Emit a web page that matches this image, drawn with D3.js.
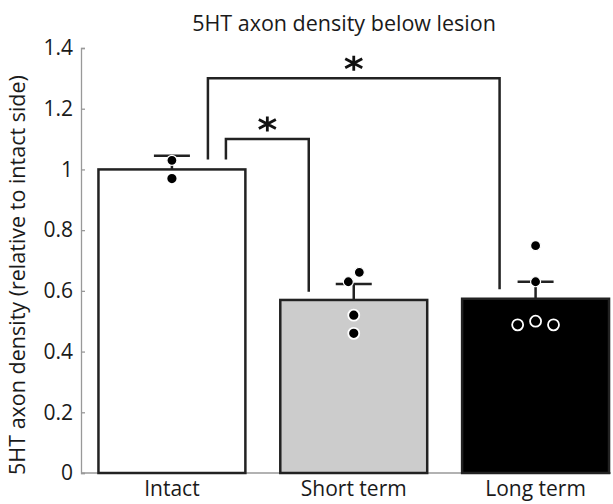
<!DOCTYPE html>
<html lang="en">
<head>
    <meta charset="UTF-8">
    <title>5HT axon density below lesion</title>
    <script src="https://d3js.org/d3.v7.min.js"></script>
    <style>
        body { margin: 0; background: #fff; }
        text { font-family: "Open Sans", "Noto Sans", sans-serif; fill: #1a1a1a; }
    </style>
</head>
<body>
    <svg id="chart"></svg>
    <script>
        const width = 613;
        const height = 504;

        // data
        const categories = ["Intact", "Short term", "Long term"];
        const means = [1.0, 0.57, 0.574];
        const errors = [0.045, 0.053, 0.056];
        const points = [
            [1.03, 0.97],
            [0.63, 0.661, 0.52, 0.46],
            [0.749, 0.63, 0.488, 0.50, 0.488]
        ];
        // horizontal spread of the dots, as a fraction of bar width
        const jitter = [
            [0, 0],
            [-0.037, 0.038, 0, 0],
            [0, 0, -0.122, 0, 0.122]
        ];
        const fills = ["#ffffff", "#cccccc", "#000000"];
        const yTicks = [0, 0.2, 0.4, 0.6, 0.8, 1, 1.2, 1.4];
        const comparisons = [
            { from: 0, to: 1, level: 1.1, fromEnd: 1.033, toEnd: 0.597 },
            { from: 0, to: 2, level: 1.3, fromEnd: 1.033, toEnd: 0.605 }
        ];

        const svg = d3.select("#chart")
            .attr("width", width)
            .attr("height", height);

        const x = d3.scaleBand()
            .domain(categories)
            .range([81, 626.5])
            .paddingInner(0.192)
            .paddingOuter(0.096);

        const y = d3.scaleLinear()
            .domain([0, 1.4])
            .range([473, 48]);

        const cx = i => x(categories[i]) + x.bandwidth() / 2;

        // title
        svg.append("text")
            .attr("x", 344)
            .attr("y", 31)
            .attr("text-anchor", "middle")
            .style("font-size", "21.5px")
            .text("5HT axon density below lesion");

        // y axis, ticks pointing inward
        const yAxis = svg.append("g")
            .attr("transform", "translate(81,0)")
            .call(d3.axisLeft(y)
                .tickValues(yTicks)
                .tickFormat(d3.format("~f"))
                .tickSize(-4)
                .tickPadding(8));
        yAxis.select(".domain").attr("stroke", "#999").attr("stroke-width", 1.3);
        yAxis.selectAll(".tick line").attr("stroke", "#999").attr("stroke-width", 1.3);
        yAxis.selectAll(".tick text")
            .style("font-size", "21px")
            .style("font-family", "'Open Sans', sans-serif")
            .attr("fill", "#1a1a1a");

        // x axis line
        svg.append("line")
            .attr("x1", 81).attr("x2", 611)
            .attr("y1", y(0)).attr("y2", y(0))
            .attr("stroke", "#999")
            .attr("stroke-width", 1.3);

        svg.append("text")
            .attr("transform", "translate(25," + 275 + ") rotate(-90)")
            .attr("text-anchor", "middle")
            .style("font-size", "21.5px")
            .text("5HT axon density (relative to intact side)");

        // bars
        svg.selectAll(".bar")
            .data(categories)
            .join("rect")
            .attr("class", "bar")
            .attr("x", d => x(d))
            .attr("y", (d, i) => y(means[i]))
            .attr("width", x.bandwidth())
            .attr("height", (d, i) => y(0) - y(means[i]))
            .attr("fill", (d, i) => fills[i])
            .attr("stroke", "#222")
            .attr("stroke-width", 2.5);

        // error bars (upper only)
        const err = svg.append("g")
            .attr("stroke", "#222")
            .attr("stroke-width", 2.5);
        categories.forEach((c, i) => {
            err.append("line")
                .attr("x1", cx(i)).attr("x2", cx(i))
                .attr("y1", y(means[i])).attr("y2", y(means[i] + errors[i]));
            err.append("line")
                .attr("x1", cx(i) - 18).attr("x2", cx(i) + 18)
                .attr("y1", y(means[i] + errors[i])).attr("y2", y(means[i] + errors[i]));
        });

        // individual animals
        categories.forEach((c, i) => {
            svg.append("g").selectAll("circle")
                .data(points[i])
                .join("circle")
                .attr("cx", (d, j) => cx(i) + jitter[i][j] * x.bandwidth())
                .attr("cy", d => y(d))
                .attr("r", d => d < means[i] ? 5.5 : 5)
                .attr("fill", "#000")
                .attr("stroke", "#fff")
                .attr("stroke-width", d => d < means[i] ? 1.8 : 1.2);
        });

        // category labels
        svg.selectAll(".cat")
            .data(categories)
            .join("text")
            .attr("class", "cat")
            .attr("x", (d, i) => cx(i))
            .attr("y", 496)
            .attr("text-anchor", "middle")
            .style("font-size", "21px")
            .text(d => d);

        // significance brackets
        const asterisk = "M0,-7.5V7.5M-8.5,-4.5L8.5,4.5M-8.5,4.5L8.5,-4.5";
        const leftOffset = [54, 36];
        const rightOffset = [-45, -36];
        comparisons.forEach((cmp, k) => {
            const x1 = cx(cmp.from) + leftOffset[k];
            const x2 = cx(cmp.to) + rightOffset[k];
            svg.append("path")
                .attr("d", d3.line()([
                    [x1, y(cmp.fromEnd)],
                    [x1, y(cmp.level)],
                    [x2, y(cmp.level)],
                    [x2, y(cmp.toEnd)]
                ]))
                .attr("fill", "none")
                .attr("stroke", "#222")
                .attr("stroke-width", 2.5);
            svg.append("path")
                .attr("d", asterisk)
                .attr("transform", "translate(" + ((x1 + x2) / 2) + "," + (y(cmp.level) - 15) + ")")
                .attr("fill", "none")
                .attr("stroke", "#111")
                .attr("stroke-width", 2.8);
        });
    </script>
</body>
</html>
